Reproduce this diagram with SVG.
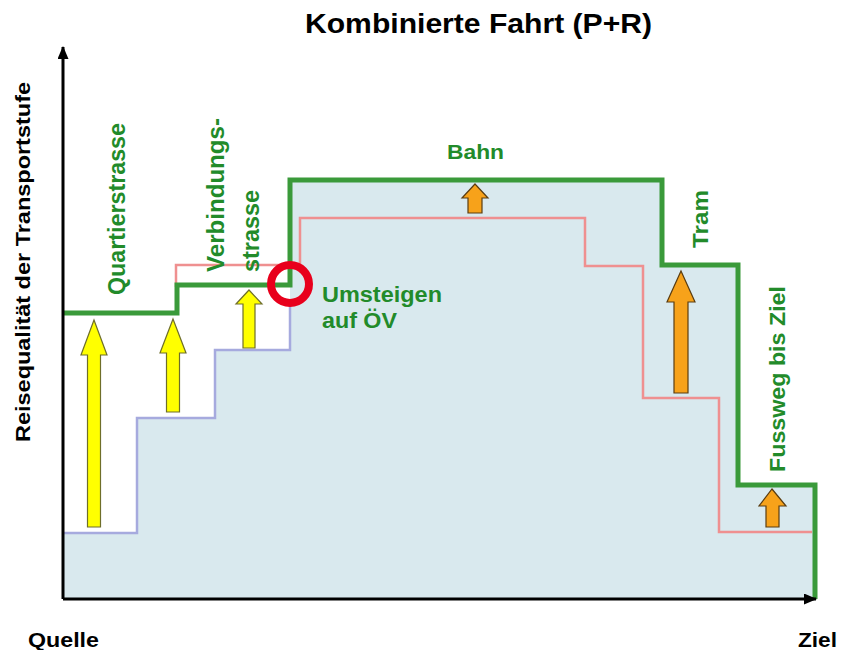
<svg xmlns="http://www.w3.org/2000/svg" width="841" height="650" viewBox="0 0 841 650">
<style>
.lbl{font-family:"Liberation Sans",Arial,sans-serif;font-weight:bold;fill:#228b2a}
.blk{font-family:"Liberation Sans",Arial,sans-serif;font-weight:bold;fill:#000}
.yel{fill:#ffff00;stroke:#6e6e2a;stroke-width:1.2}
.org{fill:#f7a21a;stroke:#5a3c10;stroke-width:1.2}
</style>
<defs>
<marker id="ah" markerWidth="13" markerHeight="11" refX="12" refY="5.5" orient="auto" markerUnits="userSpaceOnUse">
<path d="M0,0 L13,5.5 L0,11 Z" fill="#000"/>
</marker>
</defs>
<rect width="841" height="650" fill="#fff"/>
<text class="blk" x="305" y="33" font-size="28" textLength="347" lengthAdjust="spacingAndGlyphs">Kombinierte Fahrt (P+R)</text>
<g id="fill"><polygon points="63,599 63,533 137,533 137,418 215,418 215,350 290,350 290,180 662,180 662,265 738,265 738,485 815,485 815,599" fill="#d9e9ee"/></g>
<g id="connectors" fill="none">
<polyline points="63,533 137,533 137,418 215,418 215,350 290,350 290,300" stroke="#a6aade" stroke-width="2.5"/>
<polyline points="176,287 176,265 300,265 300,218 585,218 585,266 643,266 643,398 719,398 719,532 812,532" stroke="#ef9090" stroke-width="2.5"/>
<polyline points="63,313 177,313 177,285 290,285 290,180 662,180 662,265 738,265 738,485 815,485 815,599" stroke="#3a9a3a" stroke-width="5"/>
<line x1="63" y1="599" x2="63" y2="47" stroke="#000" stroke-width="3" marker-end="url(#ah)"/>
<line x1="63" y1="599" x2="816" y2="599" stroke="#000" stroke-width="3" marker-end="url(#ah)"/>
</g>
<g id="umsteigen">
<circle cx="290" cy="284" r="19" fill="none" stroke="#e8001c" stroke-width="8"/>
<text class="lbl" x="322" y="302" font-size="21.5" textLength="120" lengthAdjust="spacingAndGlyphs">Umsteigen</text>
<text class="lbl" x="322" y="328" font-size="21.5" textLength="75" lengthAdjust="spacingAndGlyphs">auf ÖV</text>
</g>
<g id="arrows">
<path class="yel" d="M94,320 L107,355 L100.5,355 L100.5,527 L87.5,527 L87.5,355 L81,355 Z"/>
<path class="yel" d="M173,319 L186,353 L179.5,353 L179.5,412 L166.5,412 L166.5,353 L160,353 Z"/>
<path class="yel" d="M249,290 L262,304 L255,304 L255,348 L243,348 L243,304 L236,304 Z"/>
<path class="org" d="M475,184 L488,198 L482,198 L482,213 L468,213 L468,198 L462,198 Z"/>
<path class="org" d="M681,271 L695,302 L688,302 L688,393 L674,393 L674,302 L667,302 Z"/>
<path class="org" d="M772,489 L786,506 L779,506 L779,527 L766,527 L766,506 L759,506 Z"/>
</g>
<g id="quartierstrasse"><text class="lbl" transform="translate(125,295) rotate(-90)" font-size="23" textLength="172" lengthAdjust="spacingAndGlyphs">Quartierstrasse</text></g>
<g id="verbindungsstrasse">
<text class="lbl" transform="translate(224,272) rotate(-90)" font-size="23" textLength="154" lengthAdjust="spacingAndGlyphs">Verbindungs-</text>
<text class="lbl" transform="translate(259,272) rotate(-90)" font-size="23" textLength="82" lengthAdjust="spacingAndGlyphs">strasse</text>
</g>
<g id="bahn"><text class="lbl" x="447" y="159" font-size="21" textLength="57" lengthAdjust="spacingAndGlyphs">Bahn</text></g>
<g id="tram"><text class="lbl" transform="translate(708,248) rotate(-90)" font-size="22" textLength="58" lengthAdjust="spacingAndGlyphs">Tram</text></g>
<g id="fussweg"><text class="lbl" transform="translate(785,472) rotate(-90)" font-size="22" textLength="186" lengthAdjust="spacingAndGlyphs">Fussweg bis Ziel</text></g>
<text class="blk" transform="translate(30,442) rotate(-90)" font-size="21" textLength="360" lengthAdjust="spacingAndGlyphs">Reisequalität der Transportstufe</text>
<text class="blk" x="28" y="647" font-size="20" textLength="71" lengthAdjust="spacingAndGlyphs">Quelle</text>
<text class="blk" x="798" y="647" font-size="20" textLength="39" lengthAdjust="spacingAndGlyphs">Ziel</text>
</svg>
